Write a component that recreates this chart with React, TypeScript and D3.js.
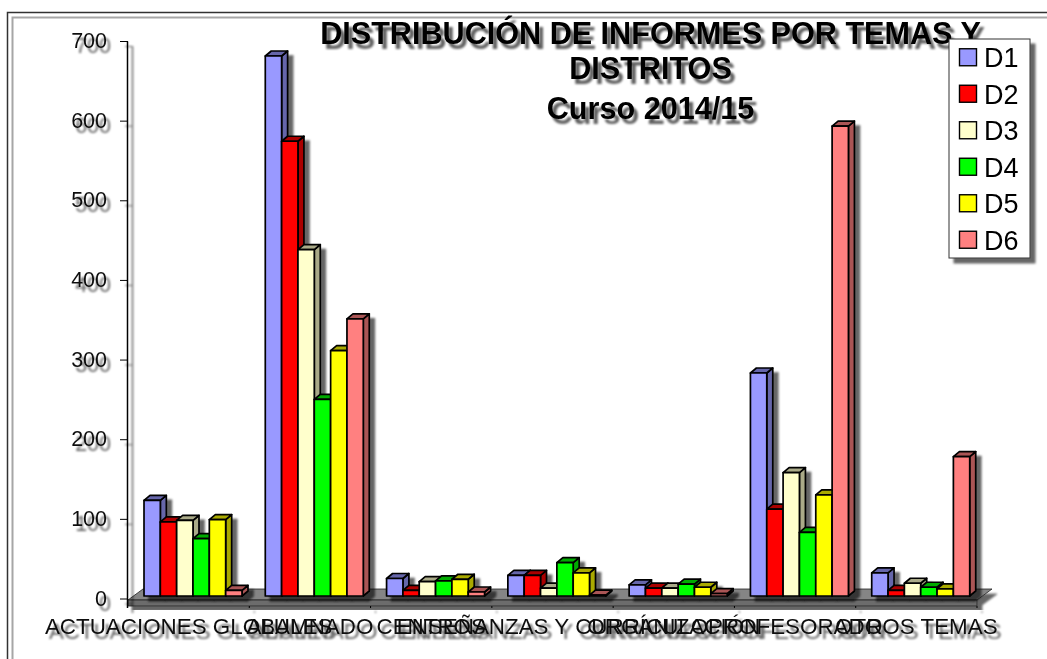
import React, { useEffect, useRef } from 'react';
import * as d3 from 'd3';

const categories = [
  'ACTUACIONES GLOBALES',
  'ALUMNADO',
  'CENTROS',
  'ENSEÑANZAS Y CURRÍCULO',
  'ORGANIZACIÓN',
  'PROFESORADO',
  'OTROS TEMAS',
];
const seriesNames = ['D1', 'D2', 'D3', 'D4', 'D5', 'D6'];
const d1 = [120, 678, 22, 26, 14, 280, 29];
const d2 = [93, 571, 7, 26, 10, 109, 7];
const d3Values = [95, 435, 18, 10, 10, 155, 16];
const d4 = [72, 247, 19, 42, 15, 80, 11];
const d5 = [96, 308, 21, 29, 11, 127, 9];
const d6 = [7, 348, 5, 1, 3, 590, 175];
const seriesValues = [d1, d2, d3Values, d4, d5, d6];
const frontColors = ['#9999ff', '#ff0000', '#ffffcc', '#00ff00', '#ffff00', '#ff8080'];
const sideColors = ['#6666aa', '#aa0000', '#aaaa88', '#00aa00', '#aaaa00', '#aa5555'];
const titleLines = ['DISTRIBUCIÓN DE INFORMES POR TEMAS Y', 'DISTRITOS', 'Curso 2014/15'];
const yTicks = [0, 100, 200, 300, 400, 500, 600, 700];

const FONT = '"Liberation Sans", Arial, sans-serif';

const App = () => {
  const svgRef = useRef<SVGSVGElement>(null);

  useEffect(() => {
    const svg = d3.select(svgRef.current);
    svg.selectAll('*').remove();

    const defs = svg.append('defs');
    const addShadow = (id, dx, dy, blur, opacity) => {
      defs.append('filter')
        .attr('id', id)
        .attr('x', '-10%').attr('y', '-10%')
        .attr('width', '120%').attr('height', '130%')
        .append('feDropShadow')
        .attr('dx', dx).attr('dy', dy)
        .attr('stdDeviation', blur)
        .attr('flood-color', '#000')
        .attr('flood-opacity', opacity);
    };
    addShadow('markShadow', 5, 5, 1, 0.6);
    addShadow('textShadow', 4, 5, 1.1, 0.62);

    // soft look of the scaled-up original
    defs.append('filter').attr('id', 'soft')
      .attr('x', 0).attr('y', 0).attr('width', 1047).attr('height', 659)
      .attr('filterUnits', 'userSpaceOnUse')
      .append('feGaussianBlur').attr('stdDeviation', 0.45);

    const root = svg.append('g');

    root.append('rect').attr('width', 1047).attr('height', 659).attr('fill', '#fff');

    // frame, only top and left are in the picture
    root.append('path').attr('d', 'M7.5,659V12.5H1047').attr('fill', 'none').attr('stroke', '#333').attr('stroke-width', 1.5);
    root.append('path').attr('d', 'M12.5,659V17.5H1047').attr('fill', 'none').attr('stroke', '#a6a6a6').attr('stroke-width', 2);

    const x = d3.scaleBand().domain(categories).range([128, 977]);
    const inner = d3.scaleBand().domain(seriesNames).range([16, 114]);
    const yAxisScale = d3.scaleLinear().domain([0, 700]).range([599, 41.5]);
    const yBar = d3.scaleLinear().domain([0, 700]).range([596, 38.5]);

    const depthX = 6;
    const depthY = 5;
    const floorDx = 15;
    const floorDy = 11;
    const [x0, x1] = x.range();
    const floorY = yAxisScale(0) + 1;

    // floor of the 3D box
    const floor = root.append('g').attr('filter', 'url(#markShadow)');
    floor.append('path')
      .attr('d', `M${x0},${floorY}L${x0 + floorDx},${floorY - floorDy}H${x1 + floorDx}L${x1},${floorY}Z`)
      .attr('fill', '#858585').attr('stroke', '#222').attr('stroke-width', 0.8);
    floor.append('rect')
      .attr('x', x0).attr('y', floorY).attr('width', x1 - x0).attr('height', 6)
      .attr('fill', '#6c6c6c').attr('stroke', '#222').attr('stroke-width', 0.8);

    // bars, left to right so each front covers the side of the one before
    const bars = root.append('g').attr('filter', 'url(#markShadow)');
    categories.forEach((cat, c) => {
      seriesNames.forEach((name, s) => {
        const left = x(cat) + inner(name);
        const w = inner.bandwidth();
        const top = yBar(seriesValues[s][c]);
        const bottom = yBar(0);
        const g = bars.append('g').attr('stroke', '#000').attr('stroke-width', 1.7).attr('stroke-linejoin', 'round');
        g.append('path')
          .attr('d', `M${left + w},${top}l${depthX},${-depthY}V${bottom - depthY}l${-depthX},${depthY}Z`)
          .attr('fill', sideColors[s]);
        g.append('path')
          .attr('d', `M${left},${top}l${depthX},${-depthY}h${w}l${-depthX},${depthY}Z`)
          .attr('fill', sideColors[s]);
        g.append('rect')
          .attr('x', left).attr('y', top).attr('width', w).attr('height', bottom - top)
          .attr('fill', frontColors[s]);
      });
    });

    // axes
    const axes = root.append('g').attr('filter', 'url(#markShadow)').attr('stroke', '#000');
    axes.append('line')
      .attr('x1', x0 - 0.5).attr('x2', x0 - 0.5)
      .attr('y1', yAxisScale(700)).attr('y2', floorY + 8)
      .attr('stroke-width', 1.5);
    yTicks.forEach(t => {
      axes.append('line')
        .attr('x1', x0 - 8).attr('x2', x0)
        .attr('y1', yAxisScale(t)).attr('y2', yAxisScale(t))
        .attr('stroke-width', 1);
    });
    categories.slice(1).forEach(cat => {
      axes.append('line')
        .attr('x1', x(cat)).attr('x2', x(cat))
        .attr('y1', floorY + 6).attr('y2', floorY + 8)
        .attr('stroke-width', 1);
    });
    axes.append('line')
      .attr('x1', x1).attr('x2', x1)
      .attr('y1', floorY + 6).attr('y2', floorY + 8)
      .attr('stroke-width', 1);

    // tick labels
    const labels = root.append('g').attr('filter', 'url(#textShadow)').attr('font-family', FONT).attr('fill', '#111');
    yTicks.forEach(t => {
      labels.append('text')
        .attr('x', 107).attr('y', yAxisScale(t) - 1)
        .attr('dy', '0.35em')
        .attr('text-anchor', 'end')
        .attr('font-size', 21.5)
        .text(t);
    });
    categories.forEach(cat => {
      labels.append('text')
        .attr('x', x(cat) + x.bandwidth() / 2).attr('y', 634)
        .attr('text-anchor', 'middle')
        .attr('font-size', 22.4)
        .text(cat);
    });

    // title
    const title = root.append('g').attr('filter', 'url(#textShadow)').attr('font-family', FONT).attr('font-weight', 'bold').attr('fill', '#000');
    titleLines.forEach((line, i) => {
      title.append('text')
        .attr('x', 650.5).attr('y', [44, 79, 119][i])
        .attr('text-anchor', 'middle')
        .attr('font-size', 30.6)
        .text(line);
    });

    // legend
    const legendY = d3.scaleBand().domain(seriesNames).range([39, 258]);
    const legend = root.append('g');
    legend.append('rect')
      .attr('x', 949).attr('y', 39).attr('width', 81).attr('height', 219)
      .attr('fill', '#fff').attr('stroke', '#333').attr('stroke-width', 1)
      .attr('filter', 'url(#markShadow)');
    seriesNames.forEach((name, s) => {
      const cy = legendY(name) + legendY.bandwidth() / 2;
      legend.append('rect')
        .attr('x', 959.5).attr('y', cy - 8.5).attr('width', 17).attr('height', 17)
        .attr('fill', frontColors[s]).attr('stroke', '#000').attr('stroke-width', 1.4);
      legend.append('text')
        .attr('x', 984).attr('y', cy + 10)
        .attr('font-family', FONT).attr('font-size', 27).attr('fill', '#000')
        .text(name);
    });

    root.attr('filter', 'url(#soft)');
  }, []);

  return (
    <svg
      ref={svgRef}
      width={1047}
      height={659}
      style={{ position: 'absolute', left: 0, top: 0, background: '#fff' }}
    />
  );
};

export default App;
